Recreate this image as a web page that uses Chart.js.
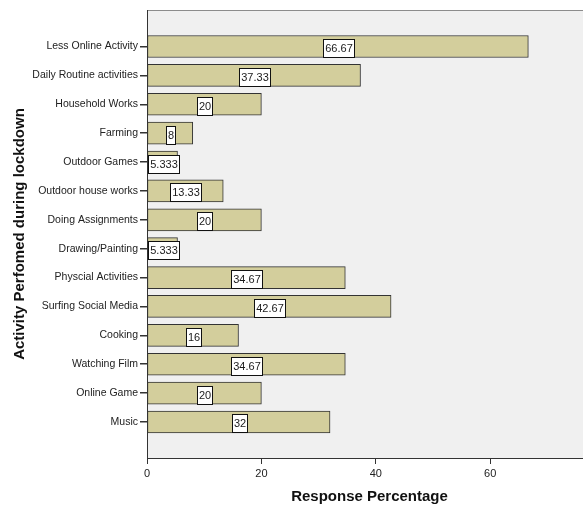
<!DOCTYPE html>
<html>
<head>
<meta charset="utf-8">
<script src="https://cdn.jsdelivr.net/npm/chart.js@4/dist/chart.umd.min.js"></script>
<style>
  html, body { margin: 0; padding: 0; background: #ffffff; overflow: hidden; }
  #wrap { width: 592px; height: 506px; }
</style>
</head>
<body>
<div id="wrap"><canvas id="c" width="592" height="506"></canvas></div>
<script>
// Activities people reported doing during lockdown (response %)
const activities = [
  'Less Online Activity', 'Daily Routine activities', 'Household Works', 'Farming',
  'Outdoor Games', 'Outdoor house works', 'Doing Assignments', 'Drawing/Painting',
  'Physcial Activities', 'Surfing Social Media', 'Cooking', 'Watching Film',
  'Online Game', 'Music'
];
const responsePct = [66.67, 37.33, 20, 8, 5.333, 13.33, 20, 5.333, 34.67, 42.67, 16, 34.67, 20, 32];
const xTicks = [0, 20, 40, 60];

const FONT = '"Liberation Sans", Arial, sans-serif';

// plot background + top frame line
const plotFrame = {
  id: 'plotFrame',
  beforeDraw(chart) {
    const { ctx, chartArea: a } = chart;
    ctx.save();
    ctx.fillStyle = '#f0f0f0';
    ctx.fillRect(a.left, a.top, a.right - a.left, a.bottom - a.top);
    ctx.strokeStyle = '#8c8c8c';
    ctx.lineWidth = 1;
    ctx.beginPath();
    ctx.moveTo(a.left, a.top + 0.5);
    ctx.lineTo(a.right, a.top + 0.5);
    ctx.stroke();
    ctx.restore();
  }
};

// boxed value labels at the middle of each bar
const valueBoxes = {
  id: 'valueBoxes',
  afterDatasetsDraw(chart) {
    const { ctx } = chart;
    const meta = chart.getDatasetMeta(0);
    ctx.save();
    ctx.font = '11px ' + FONT;
    ctx.textAlign = 'center';
    ctx.textBaseline = 'middle';
    meta.data.forEach((bar, i) => {
      const text = String(responsePct[i]);
      const cx = Math.round((bar.x + bar.base) / 2);
      const cy = bar.y + 1.5;
      const w = Math.round(ctx.measureText(text).width + 3);
      const h = 18;
      const x0 = Math.round(cx - w / 2) + 0.5;
      const y0 = Math.round(cy - h / 2) + 0.5;
      ctx.fillStyle = '#ffffff';
      ctx.fillRect(x0, y0, w, h);
      ctx.strokeStyle = '#111111';
      ctx.lineWidth = 1;
      ctx.strokeRect(x0, y0, w, h);
      ctx.fillStyle = '#1a1a1a';
      ctx.fillText(text, x0 + w / 2, y0 + h / 2 + 0.5);
    });
    ctx.restore();
  }
};

new Chart(document.getElementById('c'), {
  type: 'bar',
  data: {
    datasets: [{
      data: responsePct.map((v, i) => ({ x: v, y: i + 1 })),
      backgroundColor: '#d3ce9c',
      borderColor: '#333333',
      borderWidth: 1,
      borderSkipped: false,
      barThickness: 22
    }]
  },
  options: {
    indexAxis: 'y',
    responsive: false,
    animation: false,
    layout: { padding: { top: 10, right: 0, bottom: 0, left: 0 } },
    plugins: {
      legend: { display: false },
      tooltip: { enabled: false }
    },
    scales: {
      x: {
        type: 'linear',
        position: 'bottom',
        min: 0,
        max: 77.8,
        afterBuildTicks: (axis) => { axis.ticks = xTicks.map(v => ({ value: v })); },
        afterFit: (axis) => { axis.height = 48; },
        grid: { drawOnChartArea: false, drawTicks: true, tickLength: 6, color: '#333333', lineWidth: 1 },
        border: { display: true, color: '#333333', width: 1 },
        ticks: { color: '#222222', padding: 3, font: { family: FONT, size: 11 } },
        title: {
          display: true,
          text: 'Response Percentage',
          color: '#111111',
          padding: { top: 0, bottom: 0 },
          font: { family: FONT, size: 15, weight: 'bold' }
        }
      },
      y: {
        type: 'linear',
        position: 'left',
        reverse: true,
        offset: false,
        min: -0.264,
        max: 15.247,
        afterBuildTicks: (axis) => { axis.ticks = activities.map((_, i) => ({ value: i + 1 })); },
        afterFit: (axis) => { axis.width = 147; },
        grid: { offset: false, drawOnChartArea: false, drawTicks: true, tickLength: 7, color: '#333333', lineWidth: 1.5 },
        border: { display: true, color: '#333333', width: 1 },
        ticks: {
          color: '#222222',
          padding: 2,
          autoSkip: false,
          font: { family: FONT, size: 10.5 },
          callback: (v) => activities[v - 1] || ''
        },
        title: {
          display: true,
          text: 'Activity Perfomed during lockdown',
          color: '#111111',
          padding: { top: 11, bottom: 0 },
          font: { family: FONT, size: 15, weight: 'bold' }
        }
      }
    }
  },
  plugins: [plotFrame, valueBoxes]
});
</script>
</body>
</html>
